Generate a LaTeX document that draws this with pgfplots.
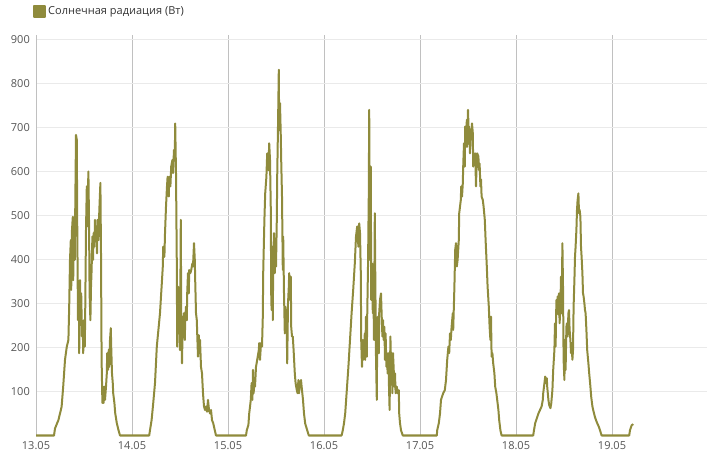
\documentclass[border=0pt]{standalone}
\usepackage{fontspec}
\setmainfont{Open Sans}
\usepackage{pgfplots}
\usepackage{pgfplotstable}
\pgfplotsset{compat=1.18}
\definecolor{lineol}{RGB}{143,139,60}
\definecolor{vgrid}{RGB}{192,192,192}
\definecolor{hgrid}{RGB}{234,234,234}
\definecolor{ticktxt}{RGB}{85,85,85}
\definecolor{legtxt}{RGB}{51,51,51}
\pgfplotstableread{
h v
0 0
4.5 0
4.75 16
5.6 35
6.4 65
6.8 111
7.25 172
7.7 202
8.1 217
8.3 293
8.5 399
8.7 444
8.8 331
9.0 467
9.2 497
9.3 353
9.5 490
9.7 399
9.8 505
10.0 683
10.2 672
10.3 490
10.5 262
10.7 338
10.8 187
11.0 353
11.2 262
11.3 323
11.5 225
11.7 247
11.8 187
12.0 262
12.2 202
12.3 278
12.5 467
12.7 566
12.8 475
13.1 600
13.25 490
13.4 323
13.6 262
13.75 338
13.9 376
14.1 452
14.25 399
14.4 460
14.6 429
14.75 490
14.9 444
15.1 475
15.25 414
15.4 490
15.6 444
15.75 490
15.9 528
16.1 574
16.25 414
16.4 172
16.6 74
16.75 111
16.9 74
17.1 111
17.25 81
17.5 111
17.7 141
17.8 187
18.0 149
18.2 195
18.3 156
18.5 217
18.7 244
18.8 202
19.0 141
19.2 118
19.3 96
19.6 74
19.8 51
20.2 28
20.6 13
21.0 0
28.3 0
28.5 12
28.9 35
29.3 73
29.75 119
30.2 202
30.6 240
31.0 278
31.25 316
31.5 353
31.7 384
31.8 429
32.1 406
32.25 459
32.5 520
32.75 566
32.9 588
33.2 543
33.3 588
33.6 566
33.8 611
34.1 626
34.25 596
34.5 649
34.7 634
34.8 709
35.0 596
35.2 391
35.3 202
35.5 338
35.7 232
35.8 323
36.0 194
36.2 490
36.3 278
36.5 164
36.7 270
36.8 232
37.0 278
37.2 217
37.3 262
37.5 293
37.7 262
37.8 323
38.0 369
38.2 323
38.3 376
38.6 369
38.8 376
39.1 391
39.25 384
39.5 437
39.7 399
39.8 353
40.0 278
40.2 262
40.3 232
40.5 179
40.7 228
40.8 187
41.0 217
41.25 156
41.5 141
41.75 96
42.0 66
42.25 58
42.5 66
42.75 54
43.0 81
43.25 58
43.5 50
43.75 58
44.0 35
44.3 28
44.7 12
45.0 0
52.5 0
52.7 12
53.1 24
53.3 50
53.7 81
53.9 119
54.1 81
54.25 149
54.4 96
54.6 119
54.75 111
55.0 156
55.3 172
55.7 194
55.8 210
56.0 172
56.25 210
56.5 202
56.7 270
56.8 369
57.1 490
57.3 550
57.6 588
57.8 641
58.1 603
58.3 664
58.5 626
58.7 513
58.8 323
58.9 285
59.1 429
59.2 262
59.3 399
59.5 460
59.7 369
59.8 429
60.0 384
60.2 490
60.3 588
60.5 702
60.7 831
60.8 694
61.0 755
61.2 679
61.3 626
61.5 543
61.7 376
61.8 452
62.0 323
62.2 232
62.3 293
62.5 278
62.7 232
62.8 164
63.0 300
63.2 338
63.3 369
63.5 308
63.7 361
63.8 247
64.0 225
64.2 225
64.4 194
64.7 141
64.9 119
65.2 103
65.4 96
65.6 126
65.75 96
66.0 119
66.25 126
66.5 103
66.75 81
67.0 50
67.3 27
67.7 15
68.2 0
76.4 0
76.7 12
77.0 28
77.3 50
77.7 103
78.1 156
78.5 217
78.9 278
79.3 331
79.7 391
80.0 452
80.3 475
80.6 429
80.8 482
81.0 460
81.2 369
81.3 217
81.5 156
81.7 217
81.8 172
82.0 187
82.2 232
82.3 172
82.5 270
82.7 179
82.8 270
83.0 384
83.2 550
83.3 740
83.5 399
83.7 611
83.8 308
84.0 391
84.2 278
84.3 369
84.5 217
84.7 505
84.8 384
85.0 179
85.2 81
85.3 232
85.5 270
85.7 187
85.8 278
86.0 308
86.25 323
86.4 278
86.6 225
86.75 262
86.9 217
87.1 247
87.25 172
87.4 232
87.6 156
87.75 187
87.9 141
88.1 187
88.25 111
88.4 58
88.6 225
88.75 164
88.9 187
89.1 96
89.25 187
89.4 156
89.6 111
89.75 141
89.9 96
90.2 111
90.4 96
90.7 103
90.8 50
91.0 28
91.25 12
91.7 0
100.2 0
100.3 12
100.7 28
101.0 50
101.25 81
101.5 88
101.8 96
102.2 103
102.5 126
102.8 172
103.1 202
103.3 187
103.5 232
103.7 217
103.9 247
104.2 278
104.3 240
104.6 338
104.8 422
105.0 437
105.2 384
105.4 399
105.7 444
105.8 505
106.0 520
106.2 535
106.3 566
106.5 543
106.7 573
106.8 611
107.0 664
107.2 611
107.3 702
107.5 656
107.7 717
107.8 656
108.0 740
108.2 679
108.3 702
108.5 641
108.7 694
108.8 672
109.0 709
109.2 687
109.3 611
109.5 641
109.7 626
109.8 641
110.0 566
110.2 634
110.3 641
110.6 634
110.75 603
110.9 618
111.1 566
111.25 582
111.4 543
111.7 535
111.9 520
112.2 490
112.4 444
112.7 384
112.9 338
113.2 293
113.4 247
113.6 217
113.75 270
113.9 179
114.1 187
114.3 164
114.6 141
114.8 111
115.1 96
115.3 81
115.6 58
115.8 35
116.1 12
116.4 0
124.3 0
124.5 12
124.8 28
125.2 39
125.6 50
126.0 58
126.4 66
126.7 81
126.8 96
127.0 111
127.2 126
127.3 134
127.5 119
127.7 130
127.8 111
128.1 81
128.3 69
128.6 62
128.8 72
129.1 103
129.3 149
129.6 194
129.75 255
129.9 202
130.1 308
130.25 278
130.4 316
130.6 275
130.75 323
130.9 255
131.1 293
131.25 361
131.4 278
131.6 437
131.75 338
131.9 172
132.1 126
132.25 217
132.4 149
132.6 247
132.75 255
132.9 225
133.1 278
133.25 285
133.4 240
133.6 217
133.75 187
133.9 210
134.1 172
134.25 194
134.4 293
134.6 353
134.75 406
134.9 429
135.1 467
135.25 513
135.4 535
135.6 550
135.75 505
135.9 513
136.1 497
136.25 429
136.4 406
136.6 369
136.75 323
136.9 316
137.1 300
137.25 285
137.4 278
137.6 240
137.8 194
138.1 164
138.3 141
138.6 111
138.8 88
139.1 66
139.3 58
139.7 43
140.0 35
140.3 28
140.7 20
141.0 12
141.4 0
148.3 0
148.5 12
148.9 23
149.3 26
}\solar
\begin{document}
\begin{tikzpicture}
\useasboundingbox (-36bp,-15.5bp) rectangle (671bp,435.5bp);
\begin{axis}[
  at={(0,0)}, anchor=south west,
  scale only axis, width=671bp, height=400.5bp,
  xmin=0, xmax=167.75, ymin=0, ymax=910,
  xtick={0,24,48,72,96,120,144},
  xticklabels={13.05,14.05,15.05,16.05,17.05,18.05,19.05},
  ytick={100,200,300,400,500,600,700,800,900},
  xmajorgrids, ymajorgrids,
  x grid style={vgrid, line width=1bp},
  y grid style={hgrid, line width=1bp},
  separate axis lines,
  axis x line*=bottom, axis y line*=left,
  x axis line style={draw=none, -},
  y axis line style={vgrid, line width=1bp, -},
  major tick length=0pt,
  tick style={draw=none},
  /pgf/number format/assume math mode=true,
  ticklabel style={font=\fontsize{11bp}{13bp}\selectfont, text=ticktxt},
  yticklabel style={inner sep=0pt, xshift=-6bp},
  xticklabel style={inner sep=0pt, anchor=north, yshift=-5.5bp},
  legend style={at={(rel axis cs:0,1)}, anchor=west, xshift=-3.5bp, yshift=23.5bp,
    draw=none, fill=none, inner sep=0pt, nodes={inner sep=2.5bp},
    font=\fontsize{11bp}{13bp}\selectfont, text=legtxt},
  legend image code/.code={\fill[lineol] (0bp,-5.5bp) rectangle (11bp,5.5bp);},
  clip=false,
]
\addplot[lineol, line width=2bp, line join=round] table[x=h, y=v] {\solar};
\addlegendentry{Солнечная радиация (Вт)}
\end{axis}
\end{tikzpicture}
\end{document}
